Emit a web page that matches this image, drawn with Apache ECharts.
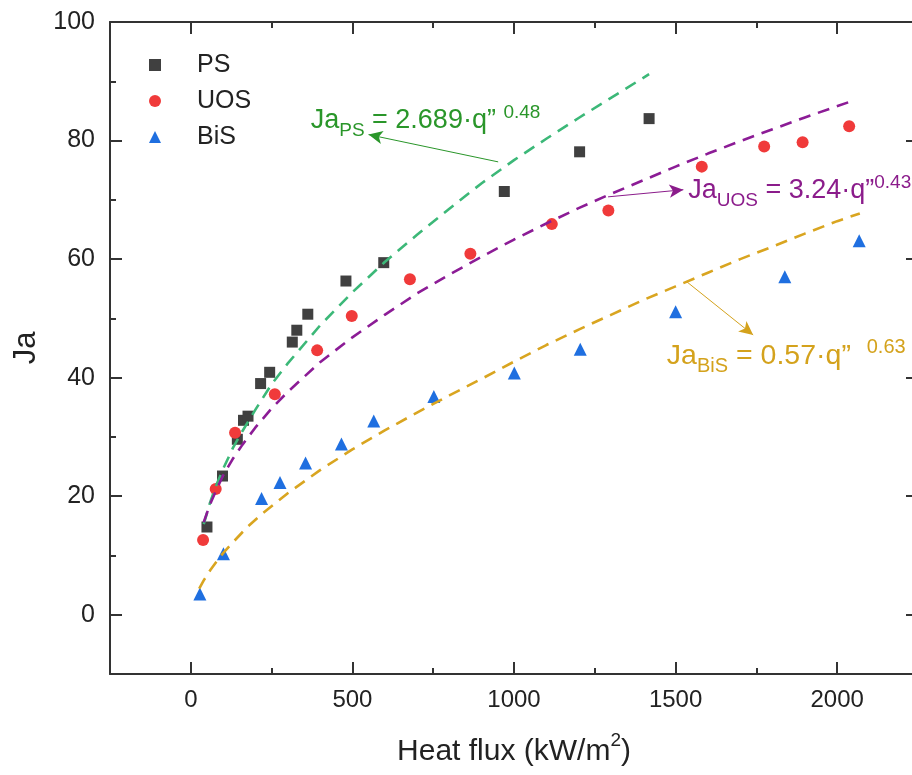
<!DOCTYPE html>
<html><head><meta charset="utf-8">
<script src="https://cdn.jsdelivr.net/npm/echarts@6/dist/echarts.min.js"></script>
<style>html,body{margin:0;padding:0;background:#fff}#c{width:912px;height:775px}</style>
</head><body><div id="c"></div>
<script>
// ---- data ----
const psX  = [50, 98, 144, 163, 177, 216, 244, 314, 328, 362, 480, 597, 970, 1203, 1418];
const psY  = [14.8, 23.4, 29.6, 32.8, 33.5, 39.0, 40.9, 46.0, 48.0, 50.7, 56.3, 59.4, 71.4, 78.1, 83.7];
const uosX = [38, 77, 137, 260, 391, 498, 678, 865, 1117, 1292, 1581, 1774, 1893, 2037];
const uosY = [12.6, 21.2, 30.7, 37.2, 44.6, 50.4, 56.6, 60.9, 65.9, 68.2, 75.6, 79.0, 79.7, 82.4];
const bisX = [28, 101, 219, 276, 355, 466, 566, 752, 1001, 1205, 1500, 1838, 2068];
const bisY = [3.5, 10.3, 19.6, 22.3, 25.6, 28.8, 32.7, 36.8, 40.8, 44.8, 51.1, 57.0, 63.1];

// dashed fitted curves as drawn in the figure
const psFitX  = [40, 60, 80, 100, 130, 160, 200, 250, 300, 400, 500, 600, 700, 800, 900, 1000, 1100, 1200, 1300, 1418];
const psFitY  = [15.3, 19.0, 22.0, 24.6, 28.1, 31.0, 34.6, 38.9, 42.4, 48.8, 54.4, 59.5, 64.1, 68.5, 72.8, 76.7, 80.3, 83.8, 87.2, 91.2];
const uosFitX = [40, 60, 80, 100, 130, 160, 200, 250, 300, 400, 500, 600, 700, 800, 900, 1000, 1100, 1200, 1300, 1400, 1500, 1600, 1700, 1800, 1900, 2037];
const uosFitY = [15.6, 18.7, 21.2, 23.5, 26.3, 28.7, 31.6, 34.8, 37.6, 42.6, 46.8, 50.6, 54.2, 57.4, 60.4, 63.3, 66.0, 68.6, 71.0, 73.3, 75.6, 77.8, 79.9, 81.9, 83.9, 86.5];
const bisFitX = [26, 40, 60, 80, 100, 130, 175, 220, 300, 400, 500, 600, 700, 800, 900, 1000, 1100, 1200, 1300, 1400, 1500, 1600, 1700, 1800, 1900, 2000, 2070];
const bisFitY = [4.4, 5.8, 7.5, 9.0, 10.4, 12.2, 14.8, 17.0, 20.5, 24.4, 27.9, 31.1, 34.1, 37.0, 39.8, 42.7, 45.5, 48.1, 50.6, 53.1, 55.4, 57.7, 60.0, 62.1, 64.3, 66.4, 67.7];

const seriesNames = ['PS', 'UOS', 'BiS'];
const xRange = [-250, 2250];
const yRange = [-10, 100];
const xMajorTicks = [0, 500, 1000, 1500, 2000];
const xMinorTicks = [250, 750, 1250, 1750];
const yMajorTicks = [0, 20, 40, 60, 80, 100];
const yMinorTicks = [10, 30, 50, 70, 90];
const xTitle = '{t|Heat flux (kW/m}{sup|2}{t|)}';
const yTitle = 'Ja';

// annotations (data coordinates)
const arrows = [
  { from: [951, 76.4], to: [550, 81.0], color: '#2a962a' },
  { from: [1291, 70.5], to: [1524, 71.7], color: '#8b1c8b' },
  { from: [1534, 56.2], to: [1740, 47.2], color: '#d4a21c' }
];
const eqLabels = [
  { at: [371, 81.5], main: 'Ja', sub: 'PS', rest: ' = 2.689·q”', gap: ' ', pow: '0.48', color: '#2a962a', size: 27 },
  { at: [1539, 69.7], main: 'Ja', sub: 'UOS', rest: ' = 3.24·q”', gap: '', pow: '0.43', color: '#8b1c8b', size: 27 },
  { at: [1473, 41.8], main: 'Ja', sub: 'BiS', rest: ' = 0.57·q”', gap: '  ', pow: '0.63', color: '#d4a21c', size: 28.5 }
];

const zip = (a, b) => a.map((v, i) => [v, b[i]]);
const FONT = '"Liberation Sans", Arial, Helvetica, sans-serif';
const AX = '#333';

const chart = echarts.init(document.getElementById('c'), null, { renderer: 'canvas' });

const gridBox = { left: 110, right: -6, top: 22, bottom: 101, outerBoundsMode: 'none', containLabel: false };

function ticks(vals, len) {
  return { show: true, inside: true, length: len, customValues: vals, lineStyle: { color: AX, width: 2 } };
}
function mkAxis(base) {
  return Object.assign({
    type: 'value', splitLine: { show: false },
    axisLine: { show: false, onZero: false }, axisLabel: { show: false }
  }, base);
}
const frameLine = { show: true, onZero: false, lineStyle: { color: AX, width: 2 } };

const xAxes = [
  mkAxis({ gridIndex: 0, position: 'bottom', min: xRange[0], max: xRange[1],
    axisLine: frameLine, axisTick: ticks(xMajorTicks, 12),
    axisLabel: { show: true, customValues: xMajorTicks, margin: 14, color: '#222', fontSize: 24, fontFamily: FONT,
      formatter: function (v) { return String(v); } },
    name: xTitle, nameLocation: 'middle', nameGap: 57,
    nameTextStyle: { color: '#222', fontSize: 30, fontFamily: FONT,
      rich: {
        t: { fontSize: 30, fontFamily: FONT, color: '#222', lineHeight: 36, verticalAlign: 'bottom' },
        sup: { fontSize: 19, fontFamily: FONT, color: '#222', verticalAlign: 'top', lineHeight: 19 }
      } }
  }),
  mkAxis({ gridIndex: 0, position: 'top', min: xRange[0], max: xRange[1],
    axisLine: frameLine, axisTick: ticks(xMajorTicks, 12) }),
  mkAxis({ gridIndex: 1, position: 'bottom', min: xRange[0], max: xRange[1], axisTick: ticks(xMinorTicks, 6) }),
  mkAxis({ gridIndex: 1, position: 'top', min: xRange[0], max: xRange[1], axisTick: ticks(xMinorTicks, 6) })
];
const yAxes = [
  mkAxis({ gridIndex: 0, position: 'left', min: yRange[0], max: yRange[1],
    axisLine: frameLine, axisTick: ticks(yMajorTicks, 12),
    axisLabel: { show: true, customValues: yMajorTicks, margin: 15, color: '#222', fontSize: 25, fontFamily: FONT,
      formatter: function (v) { return String(v); } },
    name: yTitle, nameLocation: 'middle', nameGap: 68, nameRotate: 90,
    nameTextStyle: { color: '#222', fontSize: 31, fontFamily: FONT }
  }),
  mkAxis({ gridIndex: 0, position: 'right', min: yRange[0], max: yRange[1],
    axisLine: frameLine, axisTick: ticks(yMajorTicks, 12) }),
  mkAxis({ gridIndex: 1, position: 'left', min: yRange[0], max: yRange[1], axisTick: ticks(yMinorTicks, 6) }),
  mkAxis({ gridIndex: 1, position: 'right', min: yRange[0], max: yRange[1], axisTick: ticks(yMinorTicks, 6) })
];

function fitSeries(name, xs, ys, color, arrow) {
  return {
    name: name, type: 'line', xAxisIndex: 0, yAxisIndex: 0, z: 5,
    data: zip(xs, ys), smooth: false, showSymbol: false, symbol: 'none',
    lineStyle: { color: color, width: 2.6, type: [12, 8] }, silent: true,
    markLine: {
      silent: true, symbol: ['none', 'arrow'], symbolSize: [10, 14], precision: 4,
      lineStyle: { color: arrow.color, width: 1, type: 'solid' }, label: { show: false },
      emphasis: { disabled: true },
      data: [[{ coord: arrow.from }, { coord: arrow.to }]]
    }
  };
}

const option = {
  animation: false,
  backgroundColor: '#fff',
  textStyle: { fontFamily: FONT },
  grid: [Object.assign({}, gridBox), Object.assign({}, gridBox)],
  xAxis: xAxes,
  yAxis: yAxes,
  legend: {
    data: seriesNames, orient: 'vertical', left: 149, top: 52, padding: 0,
    itemWidth: 12, itemHeight: 12, itemGap: 10, selectedMode: false,
    formatter: function (n) { return '{g|}{n|' + n + '}'; },
    textStyle: { color: '#222', fontSize: 25, fontFamily: FONT, lineHeight: 26,
      rich: { g: { width: 31, height: 26 }, n: { color: '#222', fontSize: 25, fontFamily: FONT, lineHeight: 26 } } }
  },
  series: [
    { name: 'PS', type: 'scatter', data: zip(psX, psY), symbol: 'rect', symbolSize: 11,
      itemStyle: { color: '#404040', opacity: 1 }, z: 3 },
    { name: 'UOS', type: 'scatter', data: zip(uosX, uosY), symbol: 'circle', symbolSize: 12,
      itemStyle: { color: '#f03a3a', opacity: 1 }, z: 3 },
    { name: 'BiS', type: 'scatter', data: zip(bisX, bisY), symbol: 'triangle', symbolSize: 13,
      itemStyle: { color: '#1f6fe0', opacity: 1 }, z: 3 },
    fitSeries('PS fit', psFitX, psFitY, '#3cb878', arrows[0]),
    fitSeries('UOS fit', uosFitX, uosFitY, '#8c1c96', arrows[1]),
    fitSeries('BiS fit', bisFitX, bisFitY, '#d9a520', arrows[2])
  ]
};
chart.setOption(option);

// equation labels placed from data coordinates
const graphics = eqLabels.map(function (e) {
  const p = chart.convertToPixel({ xAxisIndex: 0, yAxisIndex: 0 }, e.at);
  const s = e.size, ss = Math.round(s * 0.7);
  const mainLH = Math.round(s * 1.1);
  const baseOff = 6 + mainLH / 2 + 0.34 * s;
  return {
    type: 'text', left: p[0], top: p[1] - baseOff, silent: true, z: 20,
    style: {
      text: '{m|' + e.main + '}{s|' + e.sub + '}{m|' + e.rest + e.gap + '}{p|' + e.pow + '}',
      fill: e.color, font: s + 'px ' + FONT,
      rich: {
        m: { fontSize: s, fontFamily: FONT, fill: e.color, lineHeight: mainLH, padding: [6, 0, 0, 0], verticalAlign: 'top' },
        s: { fontSize: ss, fontFamily: FONT, fill: e.color, lineHeight: ss, padding: [Math.round(s * 0.74), 0, 0, 0], verticalAlign: 'top' },
        p: { fontSize: ss, fontFamily: FONT, fill: e.color, lineHeight: ss, padding: [2, 0, 0, 0], verticalAlign: 'top' }
      }
    }
  };
});
chart.setOption({ graphic: graphics });
</script>
</body></html>
